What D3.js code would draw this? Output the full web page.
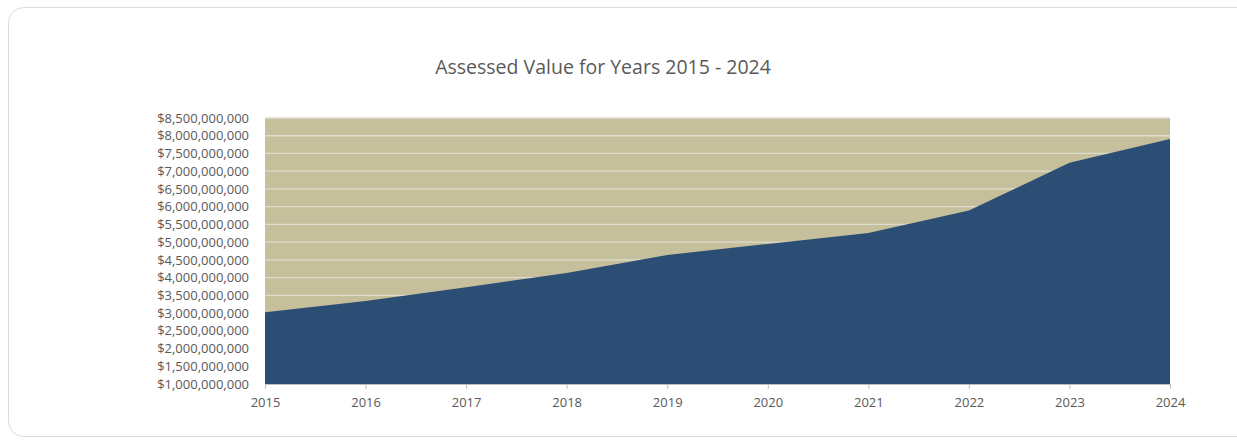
<!DOCTYPE html>
<html>
<head>
<meta charset="utf-8">
<script src="https://cdn.jsdelivr.net/npm/d3@7/dist/d3.min.js"></script>
<style>
  html, body { margin: 0; padding: 0; background: #ffffff; }
  svg { display: block; }
</style>
</head>
<body>
<svg id="chart" width="1237" height="445"></svg>
<script>
// Assessed value by year
const years = ["2015", "2016", "2017", "2018", "2019", "2020", "2021", "2022", "2023", "2024"];
const assessedValues = [3020000000, 3340000000, 3730000000, 4130000000, 4640000000,
                        4950000000, 5260000000, 5890000000, 7240000000, 7910000000];
const yTickValues = d3.range(1000000000, 8500000001, 500000000);
const chartTitle = "Assessed Value for Years 2015 - 2024";

const svg = d3.select("#chart");
const W = 1237, H = 445;
const margin = { left: 265, right: 67, top: 118, bottom: 61 };
const plotW = W - margin.left - margin.right;
const plotH = H - margin.top - margin.bottom;

// Card outline
svg.append("rect")
  .attr("x", 8.5).attr("y", 7.5)
  .attr("width", 1260).attr("height", 429)
  .attr("rx", 15).attr("ry", 15)
  .attr("fill", "#ffffff")
  .attr("stroke", "#dcdcdc")
  .attr("stroke-width", 1);

const font = "'Open Sans', sans-serif";

svg.append("text")
  .attr("x", 603).attr("y", 74)
  .attr("text-anchor", "middle")
  .attr("font-family", font)
  .attr("font-size", 19.5)
  .attr("fill", "#595959")
  .text(chartTitle);

const x = d3.scalePoint().domain(years).range([0, plotW]);
const y = d3.scaleLinear().domain([1000000000, 8500000000]).range([plotH, 0]);

const g = svg.append("g").attr("transform", `translate(${margin.left},${margin.top})`);

// Plot background
g.append("rect")
  .attr("x", 0).attr("y", 0)
  .attr("width", plotW).attr("height", plotH)
  .attr("fill", "#c6bf9b");

// Horizontal gridlines
g.append("g")
  .selectAll("line")
  .data(yTickValues)
  .join("line")
  .attr("x1", 0).attr("x2", plotW)
  .attr("y1", d => y(d)).attr("y2", d => y(d))
  .attr("stroke", "#dedbd0")
  .attr("stroke-width", 1.3);

// Area
const area = d3.area()
  .x((d, i) => x(years[i]))
  .y0(plotH)
  .y1(d => y(d));

g.append("path")
  .datum(assessedValues)
  .attr("d", area)
  .attr("fill", "#2d4e74");

// Y axis labels
const fmt = d => "$" + d3.format(",")(d);
const yAxis = g.append("g")
  .call(d3.axisLeft(y).tickValues(yTickValues).tickFormat(fmt).tickSize(0).tickPadding(16));
yAxis.select(".domain").remove();
yAxis.selectAll("text")
  .attr("font-family", font)
  .attr("font-size", 13)
  .attr("fill", "#595959");

// X axis
const xAxis = g.append("g")
  .attr("transform", `translate(0,${plotH})`)
  .call(d3.axisBottom(x).tickSize(5).tickPadding(9));
xAxis.select(".domain").attr("stroke", "#bfbfbf").attr("d", `M0,0.5H${plotW}`);
xAxis.selectAll(".tick line").attr("stroke", "#bfbfbf");
xAxis.selectAll("text")
  .attr("font-family", font)
  .attr("font-size", 13)
  .attr("fill", "#595959");
</script>
</body>
</html>
